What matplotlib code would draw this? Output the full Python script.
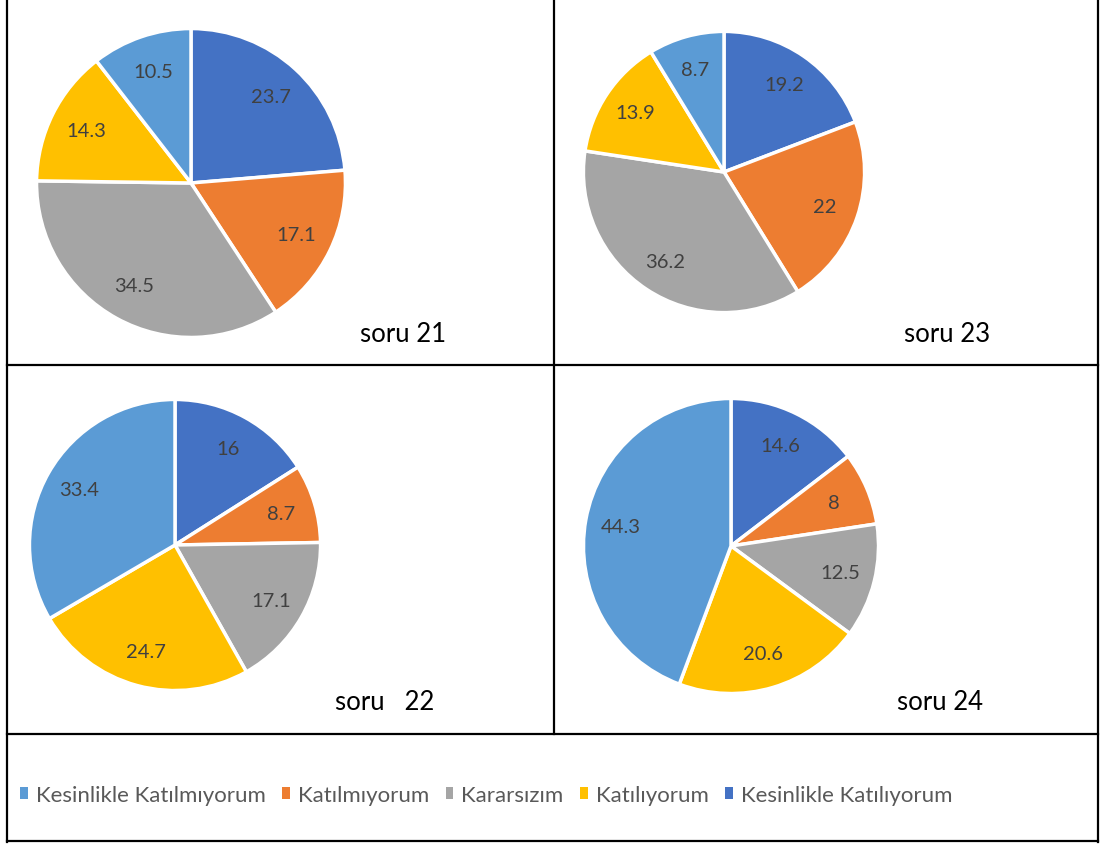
import matplotlib.pyplot as plt
from matplotlib.patches import Patch

plt.rcParams['font.family'] = ['Lato', 'DejaVu Sans']

# categories in legend order
categories = ['Kesinlikle Katılmıyorum', 'Katılmıyorum', 'Kararsızım',
              'Katılıyorum', 'Kesinlikle Katılıyorum']
colors = ['#5B9BD5', '#ED7D31', '#A5A5A5', '#FFC000', '#4472C4']

# values per question, legend order
soru21 = [10.5, 17.1, 34.5, 14.3, 23.7]
soru23 = [8.7, 22, 36.2, 13.9, 19.2]
soru22 = [33.4, 8.7, 17.1, 24.7, 16]
soru24 = [44.3, 8, 12.5, 20.6, 14.6]
titles = ['soru 21', 'soru 23', 'soru   22', 'soru 24']

W, H = 1103, 845
fig = plt.figure(figsize=(W / 100, H / 100), dpi=100)


def px_axes(x0, y0, w, h):
    return fig.add_axes([x0 / W, 1 - (y0 + h) / H, w / W, h / H])


# (center x, center y, radius, title x, title y) in pixels
layout = [(191, 184, 156, 403, 334),
          (724, 173, 142, 947, 334),
          (175, 546, 147, 385, 703),
          (731, 547, 149, 940, 703)]

# draw clockwise from 12 o'clock starting with "Kesinlikle Katılıyorum"
order = [4, 1, 2, 3, 0]

for vals, title, (cx, cy, r, tx, ty) in zip([soru21, soru23, soru22, soru24],
                                            titles, layout):
    ax = px_axes(cx - r, cy - r, 2 * r, 2 * r)
    v = [vals[i] for i in order]
    c = [colors[i] for i in order]
    lab = [f'{x:g}' for x in v]
    wedges, texts = ax.pie(v, colors=c, labels=lab, startangle=90,
                           counterclock=False, labeldistance=0.76,
                           wedgeprops=dict(edgecolor='white', linewidth=2.5),
                           textprops=dict(color='#404040', fontsize=14.5))
    for t in texts:
        t.set_ha('center')
        t.set_va('center')
    ax.set_xlim(-1.01, 1.01)
    ax.set_ylim(-1.01, 1.01)
    ax.set_aspect('equal')
    fig.text(tx / W, 1 - ty / H, title, fontsize=18.5, color='black',
             ha='center', va='center')

# table borders
frame = fig.add_axes([0, 0, 1, 1], zorder=-1)
frame.set_xlim(0, W)
frame.set_ylim(H, 0)
frame.axis('off')
lw = 1.6
frame.plot([7, 7], [0, 843], color='black', lw=lw)
frame.plot([1098, 1098], [0, 843], color='black', lw=lw)
frame.plot([554, 554], [0, 735], color='black', lw=lw)
frame.plot([7, 1098], [366, 366], color='black', lw=lw)
frame.plot([7, 1098], [735, 735], color='black', lw=lw)
frame.plot([7, 1098], [842, 842], color='black', lw=lw)

handles = [Patch(facecolor=col, edgecolor='none') for col in colors]
fig.legend(handles, categories, loc='center left',
           bbox_to_anchor=(0 / W, 1 - 796 / H), ncol=5, frameon=False,
           fontsize=16, handlelength=0.35, handleheight=0.5,
           handletextpad=0.35, columnspacing=0.75, labelcolor='#595959')

fig.savefig('out.png', dpi=100)
